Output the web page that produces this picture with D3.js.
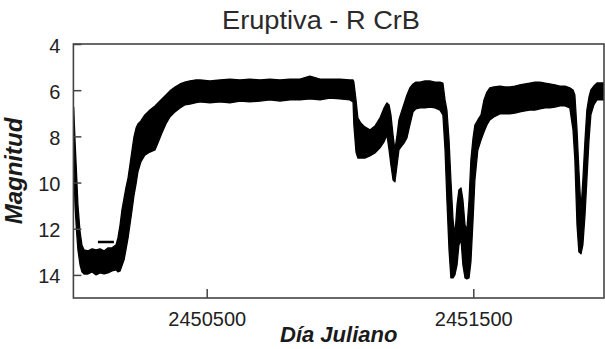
<!DOCTYPE html>
<html>
<head>
<meta charset="utf-8">
<script src="https://cdn.jsdelivr.net/npm/d3@7"></script>
<style>
  html, body { margin: 0; padding: 0; background: #fff; }
  svg { display: block; }
</style>
</head>
<body>
<svg id="chart" width="605" height="349"></svg>
<script>
// ---- Data ----
const title = "Eruptiva - R CrB";
const xLabel = "Día Juliano";
const yLabel = "Magnitud";
const xTicks = [2450500, 2451500];
const yTicks = [4, 6, 8, 10, 12, 14];

// Julian Day samples along the light curve
const jd = [
  2450001, 2450006, 2450012, 2450017, 2450025, 2450032, 2450040, 2450055, 2450070, 2450085,
  2450100, 2450115, 2450130, 2450145, 2450160, 2450167, 2450175, 2450182, 2450190, 2450197,
  2450205, 2450212, 2450220, 2450227, 2450235, 2450242, 2450253, 2450268, 2450287, 2450306,
  2450317, 2450332, 2450347, 2450362, 2450381, 2450400, 2450418, 2450437, 2450456, 2450475,
  2450512, 2450550, 2450587, 2450625, 2450662, 2450700, 2450737, 2450775, 2450812, 2450850,
  2450887, 2450925, 2450962, 2451000, 2451037, 2451049, 2451052, 2451060, 2451067, 2451078,
  2451093, 2451112, 2451131, 2451150, 2451165, 2451176, 2451184, 2451191, 2451199, 2451206,
  2451214, 2451221, 2451229, 2451240, 2451251, 2451262, 2451274, 2451285, 2451300, 2451319,
  2451337, 2451356, 2451375, 2451386, 2451394, 2451401, 2451409, 2451416, 2451424, 2451431,
  2451439, 2451446, 2451454, 2451461, 2451469, 2451476, 2451484, 2451491, 2451499, 2451506,
  2451517, 2451529, 2451540, 2451551, 2451562, 2451577, 2451600, 2451619, 2451637, 2451656,
  2451675, 2451694, 2451712, 2451731, 2451750, 2451769, 2451787, 2451806, 2451825, 2451844,
  2451862, 2451874, 2451881, 2451889, 2451896, 2451904, 2451911, 2451919, 2451926, 2451934,
  2451941, 2451952, 2451964, 2451975, 2451994
];
// Brightest magnitude of the scatter at each sample (upper edge of the band)
const magBright = [
  6.73, 8.16, 9.67, 10.97, 12.14, 12.70, 12.92, 12.96, 12.87, 12.92,
  12.87, 12.96, 12.83, 12.83, 12.70, 12.40, 11.84, 11.19, 10.67, 10.23,
  9.80, 9.24, 8.59, 8.03, 7.64, 7.46, 7.33, 7.07, 6.86, 6.68,
  6.55, 6.38, 6.21, 6.03, 5.86, 5.73, 5.65, 5.60, 5.56, 5.56,
  5.60, 5.56, 5.52, 5.56, 5.52, 5.56, 5.52, 5.56, 5.52, 5.52,
  5.39, 5.52, 5.52, 5.52, 5.56, 5.56, 5.65, 6.42, 7.20, 7.42,
  7.59, 7.72, 7.55, 7.20, 6.77, 6.55, 6.64, 7.07, 7.94, 8.59,
  7.94, 7.29, 6.99, 6.60, 6.21, 5.90, 5.73, 5.65, 5.65, 5.60,
  5.60, 5.65, 5.65, 5.69, 6.42, 6.86, 8.16, 9.89, 11.62, 12.27,
  10.97, 10.32, 10.23, 10.75, 11.84, 12.05, 10.75, 9.02, 8.07, 7.51,
  7.29, 7.07, 6.42, 6.08, 5.90, 5.86, 5.82, 5.86, 5.86, 5.82,
  5.77, 5.73, 5.69, 5.65, 5.65, 5.69, 5.73, 5.77, 5.82, 5.82,
  5.90, 5.99, 6.21, 7.72, 9.45, 11.19, 9.89, 8.16, 6.86, 6.29,
  5.99, 5.82, 5.69, 5.69, 5.69
];
// Faintest magnitude of the scatter at each sample (lower edge of the band)
const magFaint = [
  9.02, 10.97, 12.14, 12.92, 13.57, 13.87, 13.96, 13.96, 13.87, 14.00,
  13.91, 13.96, 13.91, 13.83, 13.78, 13.87, 13.83, 13.61, 13.35, 12.92,
  12.40, 11.84, 11.19, 10.58, 10.06, 9.54, 9.11, 8.81, 8.68, 8.59,
  8.29, 7.85, 7.46, 7.16, 6.94, 6.77, 6.64, 6.60, 6.55, 6.51,
  6.55, 6.51, 6.55, 6.47, 6.51, 6.47, 6.42, 6.47, 6.42, 6.42,
  6.38, 6.42, 6.34, 6.38, 6.42, 6.51, 7.51, 8.68, 8.94, 8.94,
  8.94, 8.85, 8.72, 8.50, 8.24, 7.94, 8.59, 9.24, 9.89, 9.97,
  9.24, 8.59, 8.46, 8.29, 8.07, 7.51, 6.94, 6.81, 6.77, 6.77,
  6.73, 6.77, 6.86, 7.07, 8.59, 10.75, 12.92, 14.13, 14.13, 14.00,
  13.57, 12.70, 12.48, 13.57, 14.13, 14.17, 14.13, 13.44, 11.62, 9.89,
  8.59, 8.16, 7.81, 7.51, 7.29, 7.16, 7.03, 7.03, 7.03, 6.99,
  6.94, 6.90, 6.86, 6.86, 6.81, 6.77, 6.77, 6.73, 6.68, 6.68,
  6.77, 7.72, 9.02, 11.84, 13.00, 13.09, 12.70, 11.40, 9.89, 8.16,
  7.07, 6.64, 6.42, 6.42, 6.42
];
// Short horizontal run of points during the first minimum
const streakJD = [2450092, 2450152];
const streakMag = [12.57, 12.57];

// ---- Layout ----
const W = 605, H = 349;
const plot = { left: 73.4, right: 606.6, top: 44, bottom: 298 };
const frameRight = 604;

const svg = d3.select("#chart");

const x = d3.scaleLinear().domain([2450000, 2452000]).range([plot.left, plot.right]);
const y = d3.scaleLinear().domain([4, 15]).range([plot.top, plot.bottom]);

const data = jd.map((d, i) => ({ jd: d, b: magBright[i], f: magFaint[i] }));

svg.append("defs").append("clipPath").attr("id", "clip")
  .append("rect")
  .attr("x", plot.left).attr("y", plot.top)
  .attr("width", frameRight - plot.left).attr("height", plot.bottom - plot.top);

const g = svg.append("g").attr("clip-path", "url(#clip)");

const area = d3.area()
  .x(d => x(d.jd))
  .y0(d => y(d.f))
  .y1(d => y(d.b))
  .curve(d3.curveLinear);

g.append("path")
  .datum(data)
  .attr("d", area)
  .attr("fill", "#000")
  .attr("stroke", "#000")
  .attr("stroke-width", 1.3)
  .attr("stroke-linejoin", "round");

g.append("path")
  .datum(streakJD.map((d, i) => ({ jd: d, m: streakMag[i] })))
  .attr("d", d3.line().x(d => x(d.jd)).y(d => y(d.m)))
  .attr("stroke", "#000")
  .attr("stroke-width", 2.5)
  .attr("fill", "none");

// ---- Axes ----
const axisColor = "#444";
const yAxis = svg.append("g")
  .attr("transform", `translate(${plot.left},0)`)
  .call(d3.axisLeft(y).tickValues(yTicks).tickSizeInner(-8).tickSizeOuter(0).tickPadding(13));
yAxis.select(".domain").remove();
yAxis.selectAll(".tick line").attr("stroke", axisColor).attr("stroke-width", 1.5);
yAxis.selectAll(".tick text")
  .attr("font-family", "'Liberation Sans', Arial, sans-serif")
  .attr("font-size", 20).attr("fill", "#222").attr("dy", "0.4em");

const xAxis = svg.append("g")
  .attr("transform", `translate(0,${plot.bottom})`)
  .call(d3.axisBottom(x).tickValues(xTicks).tickFormat(d3.format("d"))
    .tickSizeInner(-9).tickSizeOuter(0).tickPadding(14));
xAxis.select(".domain").remove();
xAxis.selectAll(".tick line").attr("stroke", axisColor).attr("stroke-width", 1.5);
xAxis.selectAll(".tick text")
  .attr("font-family", "'Liberation Sans', Arial, sans-serif")
  .attr("font-size", 20).attr("fill", "#222");

// Frame
svg.append("rect")
  .attr("x", plot.left).attr("y", plot.top)
  .attr("width", frameRight - plot.left).attr("height", plot.bottom - plot.top)
  .attr("fill", "none").attr("stroke", axisColor).attr("stroke-width", 1.6);

// ---- Text ----
svg.append("text")
  .attr("x", 321).attr("y", 29)
  .attr("text-anchor", "middle")
  .attr("font-family", "'Liberation Sans', Arial, sans-serif")
  .attr("font-size", 25).attr("fill", "#2a2a2a")
  .attr("textLength", 198).attr("lengthAdjust", "spacingAndGlyphs")
  .text(title);

svg.append("text")
  .attr("x", (plot.left + frameRight) / 2).attr("y", 342)
  .attr("text-anchor", "middle")
  .attr("font-family", "'Liberation Sans', Arial, sans-serif")
  .attr("font-size", 22).attr("font-weight", "bold").attr("font-style", "italic")
  .attr("fill", "#1a1a1a")
  .text(xLabel);

svg.append("text")
  .attr("transform", `translate(22,${(plot.top + plot.bottom) / 2}) rotate(-90)`)
  .attr("text-anchor", "middle")
  .attr("font-family", "'Liberation Sans', Arial, sans-serif")
  .attr("font-size", 24).attr("font-weight", "bold").attr("font-style", "italic")
  .attr("fill", "#1a1a1a")
  .text(yLabel);
</script>
</body>
</html>
